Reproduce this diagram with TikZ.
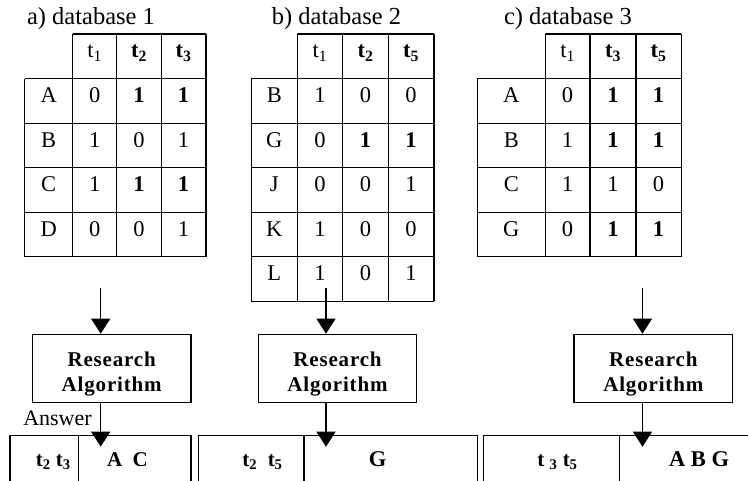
\documentclass[tikz,border=0pt]{standalone}
\usepackage{fontspec}
\setmainfont{Liberation Serif}
\usetikzlibrary{arrows.meta}
\begin{document}
\begin{tikzpicture}[x=1pt,y=-1pt,line width=1.2pt,
  cell/.style={anchor=base,inner sep=0pt,font=\fontsize{22.5}{22.5}\selectfont},
  ttl/.style={anchor=base,inner sep=0pt,font=\fontsize{24.5}{25}\selectfont},
  algbox/.style={draw,minimum width=158.5pt,minimum height=68.4pt,inner sep=0pt},
  algtxt/.style={anchor=base,inner sep=0pt,font=\fontsize{21}{21}\selectfont\bfseries\addfontfeature{LetterSpace=4}},
  arr/.style={-{Triangle[length=15pt,width=19pt]}},
  bartxt/.style={anchor=base,inner sep=0pt,font=\fontsize{21}{21}\selectfont\bfseries},
  bigtxt/.style={anchor=base,inner sep=0pt,font=\fontsize{22.5}{22.5}\selectfont\bfseries},
  anslbl/.style={anchor=base,inner sep=0pt,font=\fontsize{22}{22}\selectfont}]
\useasboundingbox (0,0) rectangle (748,481);
\clip (0,0) rectangle (748,481);

% ---------- titles ----------
\node[ttl] (ta) at (91,25) {a) database 1};
\node[ttl] (tb) at (336.5,25) {b) database 2};
\node[ttl] (tc) at (568,25) {c) database 3};

% ---------- table a ----------
\draw (72.7,34) -- (206,34);
\foreach \yy in {78.7,123.2,167.7,212.2,256.7} \draw (24.7,\yy) -- (206,\yy);
\foreach \xx in {72.7,116.7,161.3,206} \draw (\xx,34) -- (\xx,256.7);
\draw (24.7,78.7) -- (24.7,256.7);
\node[cell] (a-0-1) at (94.7,58) {t\textsubscript{1}};
\node[cell] (a-0-2) at (139,58) {\textbf{t\textsubscript{2}}};
\node[cell] (a-0-3) at (183.6,58) {\textbf{t\textsubscript{3}}};
\foreach \lab/\va/\vb/\vc [count=\i] in {A/0/\textbf{1}/\textbf{1},B/1/0/1,C/1/\textbf{1}/\textbf{1},D/0/0/1}{
  \pgfmathsetmacro\yb{78.7+44.5*(\i-1)+24}
  \node[cell] (a-\i-0) at (48.7,\yb) {\lab};
  \node[cell] (a-\i-1) at (94.7,\yb) {\va};
  \node[cell] (a-\i-2) at (139,\yb) {\vb};
  \node[cell] (a-\i-3) at (183.6,\yb) {\vc};
}

% ---------- table b ----------
\draw (297.3,34) -- (434,34);
\foreach \yy in {78.7,123.2,167.7,212.2,256.7,301.2} \draw (251.3,\yy) -- (434,\yy);
\foreach \xx in {297.3,342.7,388.3,434} \draw (\xx,34) -- (\xx,301.2);
\draw (251.3,78.7) -- (251.3,301.2);
\node[cell] (b-0-1) at (320,58) {t\textsubscript{1}};
\node[cell] (b-0-2) at (365.5,58) {\textbf{t\textsubscript{2}}};
\node[cell] (b-0-3) at (411.1,58) {\textbf{t\textsubscript{5}}};
\foreach \lab/\va/\vb/\vc [count=\i] in {B/1/0/0,G/0/\textbf{1}/\textbf{1},J/0/0/1,K/1/0/0,L/1/0/1}{
  \pgfmathsetmacro\yb{78.7+44.5*(\i-1)+24}
  \node[cell] (b-\i-0) at (274.3,\yb) {\lab};
  \node[cell] (b-\i-1) at (320,\yb) {\va};
  \node[cell] (b-\i-2) at (365.5,\yb) {\vb};
  \node[cell] (b-\i-3) at (411.1,\yb) {\vc};
}

% ---------- table c ----------
\draw (545.3,34) -- (681.3,34);
\foreach \yy in {78.7,123.2,167.7,212.2,256.7} \draw (477.3,\yy) -- (681.3,\yy);
\foreach \xx in {545.3,590,636,681.3} \draw (\xx,34) -- (\xx,256.7);
\draw (477.3,78.7) -- (477.3,256.7);
\node[cell] (c-0-1) at (567.6,58) {t\textsubscript{1}};
\node[cell] (c-0-2) at (613,58) {\textbf{t\textsubscript{3}}};
\node[cell] (c-0-3) at (658.6,58) {\textbf{t\textsubscript{5}}};
\foreach \lab/\va/\vb/\vc [count=\i] in {A/0/\textbf{1}/\textbf{1},B/1/\textbf{1}/\textbf{1},C/1/1/0,G/0/\textbf{1}/\textbf{1}}{
  \pgfmathsetmacro\yb{78.7+44.5*(\i-1)+24}
  \node[cell] (c-\i-0) at (511.3,\yb) {\lab};
  \node[cell] (c-\i-1) at (567.6,\yb) {\va};
  \node[cell] (c-\i-2) at (613,\yb) {\vb};
  \node[cell] (c-\i-3) at (658.6,\yb) {\vc};
}

% ---------- algorithm boxes ----------
\node[algbox] (ra) at (111.7,368.5) {};
\node[algbox] (rb) at (337.5,368.5) {};
\node[algbox] (rc) at (653.3,368.5) {};
\node[algtxt] (ra-1) at (111.7,366.7) {Research};
\node[algtxt] (ra-2) at (111.7,391.7) {Algorithm};
\node[algtxt] (rb-1) at (337.5,366.7) {Research};
\node[algtxt] (rb-2) at (337.5,391.7) {Algorithm};
\node[algtxt] (rc-1) at (653.3,366.7) {Research};
\node[algtxt] (rc-2) at (653.3,391.7) {Algorithm};

% ---------- arrows ----------
\coordinate (sa) at (100.7,288);
\coordinate (sb) at (326,288);
\coordinate (sc) at (642.5,288);
\coordinate (ea) at (100.7,446.7);
\coordinate (eb) at (326,446.7);
\coordinate (ec) at (642.5,446.7);
\draw[arr] (sa) -- (sa |- ra.north);
\draw[arr] (sb) -- (sb |- rb.north);
\draw[arr] (sc) -- (sc |- rc.north);

% ---------- answer bar ----------
\draw (10,435.7) rectangle (191,482);
\draw (78.3,435.7) -- (78.3,482);
\draw (198.3,435.7) rectangle (477.3,482);
\draw (304,435.7) -- (304,482);
\draw (483.3,435.7) rectangle (760,482);
\draw (619.3,435.7) -- (619.3,482);

\draw[arr] (ea |- ra.south) -- (ea);
\draw[arr] (eb |- rb.south) -- (eb);
\draw[arr] (ec |- rc.south) -- (ec);

\node[anslbl] (ans) at (57.5,425) {Answer};
\node[bartxt] (xa-1) at (53.3,466.7) {t\textsubscript{2} t\textsubscript{3}};
\node[bartxt] (xa-2) at (127.5,466.7) {A\ \ C};
\node[bartxt] (xb-1) at (262.5,466.7) {t\textsubscript{2}\ \ t\textsubscript{5}};
\node[bigtxt] (xb-2) at (377.7,466.7) {G};
\node[bartxt] (xc-1) at (557.5,466.7) {t\ \textsubscript{3} t\textsubscript{5}};
\node[bigtxt] (xc-2) at (699,466.7) {A B G};
\end{tikzpicture}
\end{document}
